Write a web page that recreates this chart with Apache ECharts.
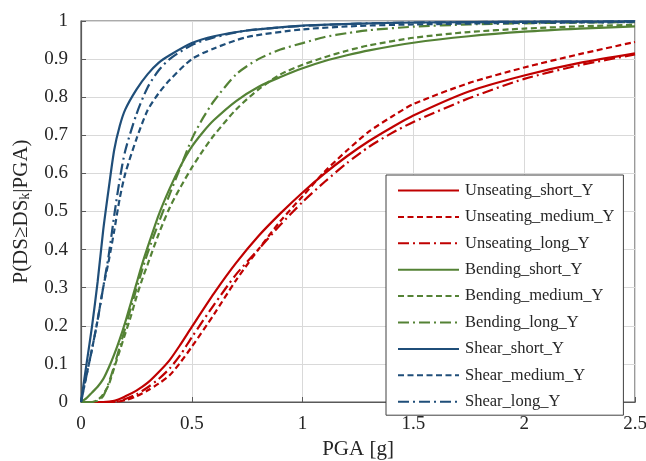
<!DOCTYPE html>
<html>
<head>
<meta charset="utf-8">
<script src="https://cdn.jsdelivr.net/npm/echarts@6/dist/echarts.min.js"></script>
<style>html,body{margin:0;padding:0;background:#fff}#c{width:646px;height:461px}</style>
</head>
<body>
<div id="c"></div>
<script>
// ---- data ----
const seriesNames = ['Unseating_short_Y','Unseating_medium_Y','Unseating_long_Y','Bending_short_Y','Bending_medium_Y','Bending_long_Y','Shear_short_Y','Shear_medium_Y','Shear_long_Y'];

const unseatingX = [0, 0.1, 0.15, 0.2, 0.25, 0.3, 0.35, 0.4, 0.45, 0.5, 0.6, 0.7, 0.8, 0.9, 1.0, 1.1, 1.2, 1.3, 1.4, 1.5, 1.75, 2.0, 2.25, 2.5];
const unseatingShort  = [0, 0, 0.003, 0.015, 0.03, 0.05, 0.078, 0.11, 0.152, 0.197, 0.285, 0.365, 0.435, 0.495, 0.55, 0.6, 0.645, 0.685, 0.72, 0.752, 0.815, 0.857, 0.89, 0.915];
const unseatingMedium = [0, 0, 0, 0.005, 0.015, 0.03, 0.048, 0.07, 0.105, 0.145, 0.23, 0.32, 0.4, 0.475, 0.54, 0.605, 0.66, 0.71, 0.748, 0.782, 0.837, 0.878, 0.913, 0.945];
const unseatingLong   = [0, 0, 0, 0.008, 0.02, 0.038, 0.06, 0.088, 0.125, 0.17, 0.255, 0.335, 0.4, 0.465, 0.525, 0.578, 0.627, 0.67, 0.705, 0.735, 0.797, 0.848, 0.884, 0.912];

const bendingX = [0, 0.025, 0.05, 0.075, 0.1, 0.125, 0.15, 0.175, 0.2, 0.225, 0.25, 0.275, 0.3, 0.35, 0.4, 0.45, 0.5, 0.55, 0.6, 0.7, 0.8, 0.9, 1.0, 1.1, 1.2, 1.3, 1.5, 1.75, 2.0, 2.25, 2.5];
const bendingShort  = [0, 0.01, 0.025, 0.04, 0.06, 0.09, 0.125, 0.165, 0.21, 0.26, 0.31, 0.36, 0.405, 0.49, 0.56, 0.62, 0.67, 0.708, 0.74, 0.79, 0.827, 0.853, 0.876, 0.895, 0.91, 0.923, 0.943, 0.96, 0.972, 0.98, 0.986];
const bendingMedium = [0, 0, 0, 0.005, 0.02, 0.045, 0.09, 0.135, 0.18, 0.225, 0.275, 0.32, 0.36, 0.44, 0.51, 0.565, 0.615, 0.66, 0.7, 0.768, 0.82, 0.86, 0.885, 0.905, 0.922, 0.936, 0.956, 0.971, 0.98, 0.986, 0.99];
const bendingLong   = [0, 0, 0, 0.003, 0.015, 0.05, 0.095, 0.145, 0.195, 0.247, 0.297, 0.345, 0.39, 0.47, 0.545, 0.618, 0.69, 0.745, 0.79, 0.86, 0.9, 0.925, 0.942, 0.958, 0.968, 0.976, 0.985, 0.991, 0.994, 0.996, 0.997];

const shearX = [0, 0.025, 0.05, 0.075, 0.1, 0.125, 0.15, 0.175, 0.2, 0.25, 0.3, 0.35, 0.4, 0.5, 0.6, 0.75, 1.0, 1.25, 1.5, 2.0, 2.5];
const shearShort  = [0, 0.1, 0.2, 0.315, 0.45, 0.56, 0.662, 0.725, 0.768, 0.82, 0.86, 0.89, 0.91, 0.942, 0.96, 0.975, 0.988, 0.993, 0.996, 0.998, 0.999];
const shearMedium = [0, 0.07, 0.14, 0.215, 0.3, 0.37, 0.45, 0.535, 0.6, 0.69, 0.765, 0.81, 0.845, 0.9, 0.928, 0.958, 0.978, 0.987, 0.991, 0.995, 0.997];
const shearLong   = [0, 0.07, 0.14, 0.215, 0.3, 0.385, 0.49, 0.585, 0.66, 0.755, 0.825, 0.87, 0.9, 0.937, 0.957, 0.975, 0.987, 0.993, 0.996, 0.998, 0.999];

const xTicks = [0, 0.5, 1, 1.5, 2, 2.5];
const yTicks = [0, 0.1, 0.2, 0.3, 0.4, 0.5, 0.6, 0.7, 0.8, 0.9, 1];

// ---- styling ----
const RED = '#C00000', GREEN = '#548235', BLUE = '#1F4E79';
const DASH = [6, 3.5];
const DASHDOT = [11, 4, 2, 4];
const FONT = '"Liberation Serif", "Times New Roman", serif';
const TXT = '#262626';

function pairs(xs, ys) { return xs.map((x, i) => [x, ys[i]]); }

const defs = [
  [unseatingX, unseatingShort, RED, 'solid'],
  [unseatingX, unseatingMedium, RED, DASH],
  [unseatingX, unseatingLong, RED, DASHDOT],
  [bendingX, bendingShort, GREEN, 'solid'],
  [bendingX, bendingMedium, GREEN, DASH],
  [bendingX, bendingLong, GREEN, DASHDOT],
  [shearX, shearShort, BLUE, 'solid'],
  [shearX, shearMedium, BLUE, DASH],
  [shearX, shearLong, BLUE, DASHDOT]
];

const series = defs.map((d, i) => ({
  name: seriesNames[i],
  type: 'line',
  data: pairs(d[0], d[1]),
  symbol: 'none',
  smooth: 0.25,
  color: d[2],
  lineStyle: { color: d[2], width: 2.2, type: d[3] },
  emphasis: { disabled: true },
  z: 3
}));

const chart = echarts.init(document.getElementById('c'), null, { renderer: 'canvas' });
chart.setOption({
  animation: false,
  backgroundColor: '#fff',
  grid: { left: 81, right: 11, top: 21, bottom: 59, outerBoundsMode: 'none', containLabel: false,
          show: true, borderColor: '#595959', borderWidth: 1.2, backgroundColor: 'transparent' },
  xAxis: {
    type: 'value', min: 0, max: 2.5, interval: 0.5,
    name: 'PGA [g]', nameLocation: 'middle', nameGap: 34,
    nameTextStyle: { fontFamily: FONT, fontSize: 21, color: TXT },
    axisLine: { show: true, lineStyle: { color: '#595959', width: 1.2 } },
    axisTick: { show: true, inside: true, length: 5, lineStyle: { color: '#595959' } },
    axisLabel: { fontFamily: FONT, fontSize: 19, color: TXT, margin: 13,
      formatter: v => { const t = xTicks.find(k => Math.abs(k - v) < 1e-9); return t === undefined ? '' : String(t); } },
    splitLine: { show: true, lineStyle: { color: '#d9d9d9', width: 1 } }
  },
  yAxis: {
    type: 'value', min: 0, max: 1, interval: 0.1,
    name: '{a|P(DS≥DS}{b|k}{a||PGA)}', nameLocation: 'middle', nameGap: 47, nameRotate: 90,
    nameTextStyle: { fontFamily: FONT, fontSize: 21, color: TXT,
      rich: { a: { fontFamily: FONT, fontSize: 21, color: TXT, lineHeight: 26 },
              b: { fontFamily: FONT, fontSize: 14, color: TXT, lineHeight: 14, padding: [9, 0, 0, 0] } } },
    axisLine: { show: true, lineStyle: { color: '#595959', width: 1.2 } },
    axisTick: { show: true, inside: true, length: 5, lineStyle: { color: '#595959' } },
    axisLabel: { fontFamily: FONT, fontSize: 19, color: TXT, margin: 13,
      formatter: v => { const t = yTicks.find(k => Math.abs(k - v) < 1e-9); return t === undefined ? '' : String(t); } },
    splitLine: { show: true, lineStyle: { color: '#d9d9d9', width: 1 } }
  },
  legend: {
    orient: 'vertical', left: 386, top: 175,
    data: seriesNames,
    itemWidth: 61, itemHeight: 14, itemGap: 9.4,
    padding: [7, 9, 5, 11],
    backgroundColor: '#fff', borderColor: '#404040', borderWidth: 1,
    itemStyle: { opacity: 0 },
    textStyle: { fontFamily: FONT, fontSize: 16.5, color: TXT, padding: [0, 0, 0, 1] },
    selectedMode: false
  },
  series: series
});
</script>
</body>
</html>
